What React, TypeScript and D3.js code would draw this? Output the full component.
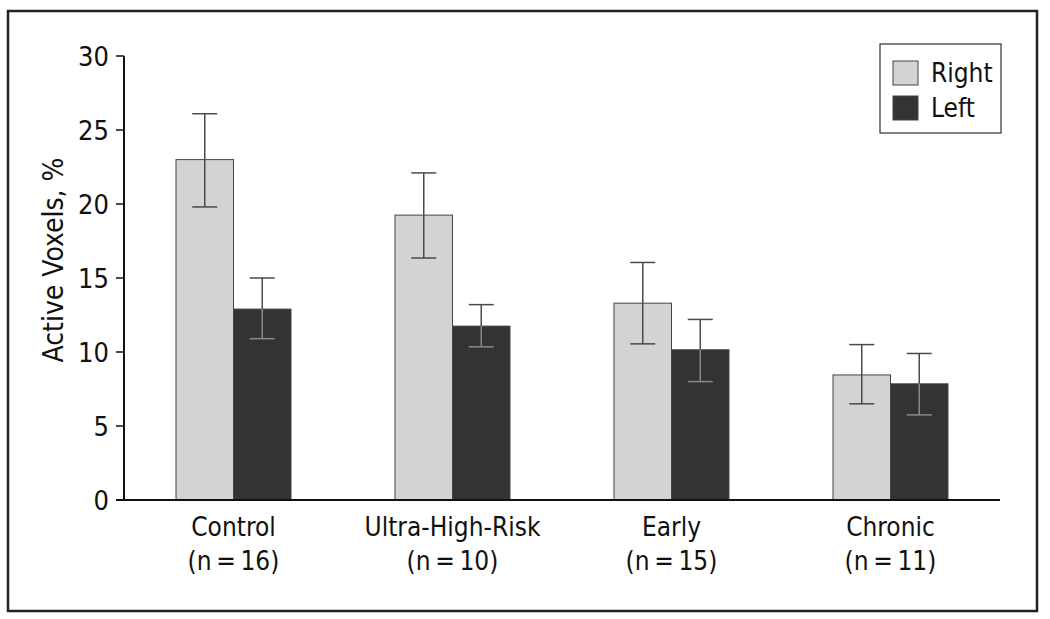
import { useEffect, useRef } from "react";
import * as d3 from "d3";

const categories = ["Control", "Ultra-High-Risk", "Early", "Chronic"];
const groupSizes = ["(n\u2009=\u200916)", "(n\u2009=\u200910)", "(n\u2009=\u200915)", "(n\u2009=\u200911)"];
const seriesNames = ["Right", "Left"];
const rightValues = [23.0, 19.25, 13.3, 8.45];
const rightLow = [19.8, 16.35, 10.55, 6.5];
const rightHigh = [26.1, 22.1, 16.05, 10.5];
const leftValues = [12.9, 11.75, 10.15, 7.85];
const leftLow = [10.9, 10.35, 8.0, 5.75];
const leftHigh = [15.0, 13.2, 12.2, 9.9];
const yTicks = [0, 5, 10, 15, 20, 25, 30];

const FONT = "'Liberation Sans Narrow', 'DejaVu Sans Condensed', Arial, sans-serif";
const COLORS = ["#d3d3d3", "#333333"];

export default function App() {
  const svgRef = useRef<SVGSVGElement>(null);

  useEffect(() => {
    if (!svgRef.current) return;
    const svg = d3.select(svgRef.current);
    svg.selectAll("*").remove();

    const left = 124;
    const right = 1000;
    const top = 56;
    const bottom = 500;

    const y = d3.scaleLinear().domain([0, 30]).range([bottom, top]);
    const x = d3.scaleBand<string>().domain(categories).range([left, right]).padding(0);
    const x1 = d3
      .scaleBand<string>()
      .domain(seriesNames)
      .range([x.bandwidth() / 2 - 57.5, x.bandwidth() / 2 + 57.5]);

    // outer frame
    svg
      .append("rect")
      .attr("x", 8)
      .attr("y", 11)
      .attr("width", 1029)
      .attr("height", 600)
      .attr("fill", "white")
      .attr("stroke", "#222")
      .attr("stroke-width", 2.5);

    const series = [
      { name: "Right", values: rightValues, low: rightLow, high: rightHigh, color: COLORS[0] },
      { name: "Left", values: leftValues, low: leftLow, high: leftHigh, color: COLORS[1] },
    ];

    // bars
    series.forEach((s) => {
      svg
        .append("g")
        .selectAll("rect")
        .data(categories)
        .enter()
        .append("rect")
        .attr("x", (c) => (x(c) ?? 0) + (x1(s.name) ?? 0))
        .attr("y", (_, i) => y(s.values[i]))
        .attr("width", x1.bandwidth())
        .attr("height", (_, i) => bottom - y(s.values[i]))
        .attr("fill", s.color)
        .attr("stroke", "#444")
        .attr("stroke-width", 1);
    });

    // error bars (lighter where they sit on the dark bars)
    series.forEach((s) => {
      const dark = s.name === "Left";
      categories.forEach((c, i) => {
        const cx = (x(c) ?? 0) + (x1(s.name) ?? 0) + x1.bandwidth() / 2;
        const g = svg.append("g").attr("fill", "none").attr("stroke-width", 1.5);
        const outer = "#4a4a4a";
        const inner = dark ? "#8a8a8a" : "#4a4a4a";
        g.append("line")
          .attr("x1", cx).attr("x2", cx)
          .attr("y1", y(s.high[i])).attr("y2", y(s.values[i]))
          .attr("stroke", outer);
        g.append("line")
          .attr("x1", cx).attr("x2", cx)
          .attr("y1", y(s.values[i])).attr("y2", y(s.low[i]))
          .attr("stroke", inner);
        g.append("line")
          .attr("x1", cx - 12.5).attr("x2", cx + 12.5)
          .attr("y1", y(s.high[i])).attr("y2", y(s.high[i]))
          .attr("stroke", outer);
        g.append("line")
          .attr("x1", cx - 12.5).attr("x2", cx + 12.5)
          .attr("y1", y(s.low[i])).attr("y2", y(s.low[i]))
          .attr("stroke", inner);
      });
    });

    // y axis
    svg
      .append("line")
      .attr("x1", left).attr("x2", left)
      .attr("y1", top).attr("y2", bottom)
      .attr("stroke", "#111").attr("stroke-width", 2);
    const ticks = svg.append("g").selectAll("g").data(yTicks).enter().append("g");
    ticks
      .append("line")
      .attr("x1", left - 8).attr("x2", left)
      .attr("y1", (d) => y(d)).attr("y2", (d) => y(d))
      .attr("stroke", "#111").attr("stroke-width", 1.5);
    ticks
      .append("text")
      .attr("x", 109)
      .attr("y", (d) => y(d))
      .attr("dy", "0.36em")
      .attr("text-anchor", "end")
      .attr("font-family", FONT)
      .attr("font-size", 27)
      .attr("fill", "#111")
      .text((d) => d);

    // x axis
    svg
      .append("line")
      .attr("x1", left - 8).attr("x2", right)
      .attr("y1", bottom).attr("y2", bottom)
      .attr("stroke", "#111").attr("stroke-width", 2);

    const cat = svg.append("g").selectAll("g").data(categories).enter().append("g");
    cat
      .append("text")
      .attr("x", (c) => (x(c) ?? 0) + x.bandwidth() / 2)
      .attr("y", 536)
      .attr("text-anchor", "middle")
      .attr("font-family", FONT)
      .attr("font-size", 26)
      .attr("fill", "#111")
      .text((c) => c);
    cat
      .append("text")
      .attr("x", (c) => (x(c) ?? 0) + x.bandwidth() / 2)
      .attr("y", 570)
      .attr("text-anchor", "middle")
      .attr("font-family", FONT)
      .attr("font-size", 26)
      .attr("fill", "#111")
      .text((_, i) => groupSizes[i]);

    // y label
    svg
      .append("text")
      .attr("transform", "translate(63,260) rotate(-90)")
      .attr("text-anchor", "middle")
      .attr("font-family", FONT)
      .attr("font-size", 28)
      .attr("fill", "#111")
      .text("Active Voxels, %");

    // legend
    const lg = svg.append("g");
    lg.append("rect")
      .attr("x", 880).attr("y", 44)
      .attr("width", 121).attr("height", 89)
      .attr("fill", "white").attr("stroke", "#333").attr("stroke-width", 1.2);
    seriesNames.forEach((name, i) => {
      lg.append("rect")
        .attr("x", 893).attr("y", 61 + i * 35)
        .attr("width", 25).attr("height", 24)
        .attr("fill", COLORS[i]).attr("stroke", "#444").attr("stroke-width", 1);
      lg.append("text")
        .attr("x", 931).attr("y", 82 + i * 35)
        .attr("font-family", FONT)
        .attr("font-size", 26)
        .attr("fill", "#111")
        .text(name);
    });
  }, []);

  return (
    <svg
      ref={svgRef}
      width={1050}
      height={619}
      style={{ position: "absolute", left: 0, top: 0, background: "white" }}
    />
  );
}
